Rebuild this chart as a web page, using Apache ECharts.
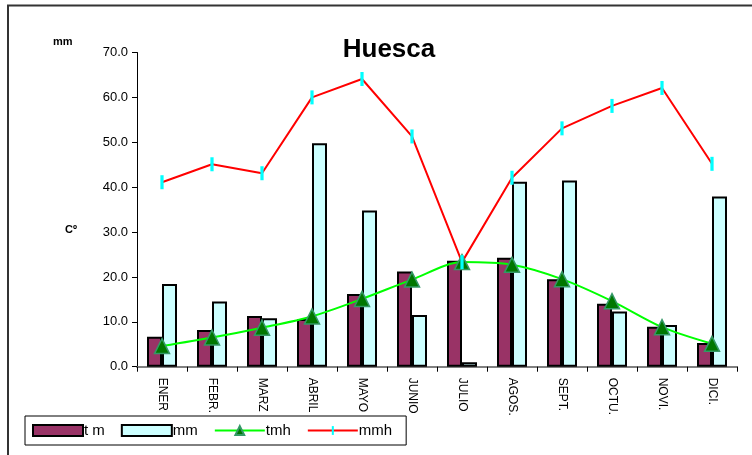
<!DOCTYPE html>
<html>
<head>
<meta charset="utf-8">
<script src="https://cdn.jsdelivr.net/npm/echarts@6/dist/echarts.min.js"></script>
<style>
  html, body { margin: 0; padding: 0; background: #fff; }
  #chart { width: 752px; height: 455px; }
</style>
</head>
<body>
<div id="chart"></div>
<script>
// datos climáticos de Huesca
var meses = ['ENER', 'FEBR.', 'MARZ', 'ABRIL', 'MAYO', 'JUNIO', 'JULIO', 'AGOS.', 'SEPT.', 'OCTU.', 'NOVI.', 'DICI.'];
var tm = [6.7, 8.2, 11.3, 10.6, 16.2, 21.2, 23.6, 24.3, 19.5, 14.0, 8.9, 5.3];
var mm = [18.4, 14.5, 10.8, 49.8, 34.8, 11.5, 1.0, 41.2, 41.5, 12.3, 9.3, 37.9];
var tmh = [4.6, 6.5, 8.7, 11.2, 15.1, 19.4, 23.3, 22.7, 19.5, 14.6, 8.8, 5.1];
var mmh = [41.1, 45.1, 43.1, 60.0, 64.1, 51.3, 23.3, 42.1, 53.1, 58.1, 62.1, 45.2];

// marca vertical fina (caja cuadrada, barra en el centro)
var barraV = 'path://M0,0 L0,0 M5,0 L8,0 L8,13 L5,13 Z M13,13 L13,13';

var chart = echarts.init(document.getElementById('chart'));

chart.setOption({
    animation: false,
    textStyle: { fontFamily: 'Arial, Liberation Sans, sans-serif' },
    title: {
        text: 'Huesca',
        left: 384,
        top: 32,
        textAlign: 'center',
        textStyle: { fontSize: 26, fontWeight: 'bold', color: '#000' }
    },
    graphic: [{
        type: 'rect',
        shape: { x: 8, y: 5.5, width: 900, height: 600 },
        style: { fill: 'none', stroke: '#333', lineWidth: 2 },
        silent: true
    }, {
        type: 'text',
        left: 53, top: 36,
        style: { text: 'mm', font: 'bold 11px Arial', fill: '#000' }
    }, {
        type: 'text',
        left: 65, top: 224,
        style: { text: 'Cº', font: 'bold 11px Arial', fill: '#000' }
    }],
    legend: {
        left: 25,
        top: 416,
        orient: 'horizontal',
        borderColor: '#000',
        borderWidth: 1,
        borderRadius: 0,
        padding: [7, 14, 7, 7],
        itemWidth: 50,
        itemHeight: 11,
        itemGap: 16,
        textStyle: { fontSize: 15, color: '#000', padding: [0, 0, 0, -4] },
        data: [
            { name: 't m', icon: 'rect' },
            { name: 'mm', icon: 'rect' },
            'tmh',
            'mmh'
        ]
    },
    grid: { left: 137, right: 15, top: 52.5, bottom: 88.3 },
    xAxis: {
        type: 'category',
        data: meses,
        axisLine: { lineStyle: { color: '#808080', width: 2 } },
        axisTick: { show: true, length: 5, lineStyle: { color: '#000' } },
        axisLabel: { rotate: -90, fontSize: 12, color: '#000', margin: 11 }
    },
    yAxis: {
        type: 'value',
        min: 0,
        max: 70,
        interval: 10,
        splitLine: { show: false },
        axisLine: { show: true, lineStyle: { color: '#000', width: 1 } },
        axisTick: { show: true, length: 5, lineStyle: { color: '#000' } },
        axisLabel: {
            fontSize: 13, color: '#000', margin: 9,
            formatter: function (v) { return v.toFixed(1); }
        }
    },
    series: [{
        name: 't m',
        type: 'bar',
        data: tm,
        barGap: '0%',
        barCategoryGap: '40%',
        itemStyle: { color: '#993366', borderColor: '#000', borderWidth: 2 }
    }, {
        name: 'mm',
        type: 'bar',
        data: mm,
        itemStyle: { color: '#CCFFFF', borderColor: '#000', borderWidth: 2 }
    }, {
        name: 'tmh',
        type: 'line',
        data: tmh,
        smooth: 0.3,
        symbol: 'triangle',
        symbolSize: 15,
        lineStyle: { color: '#00FF00', width: 2 },
        itemStyle: { color: '#007700', borderColor: '#339966', borderWidth: 1.5 }
    }, {
        name: 'mmh',
        type: 'line',
        data: mmh,
        symbol: barraV,
        symbolKeepAspect: true,
        symbolSize: 14,
        lineStyle: { color: '#FF0000', width: 2 },
        itemStyle: { color: '#00FFFF' }
    }]
});
</script>
</body>
</html>
